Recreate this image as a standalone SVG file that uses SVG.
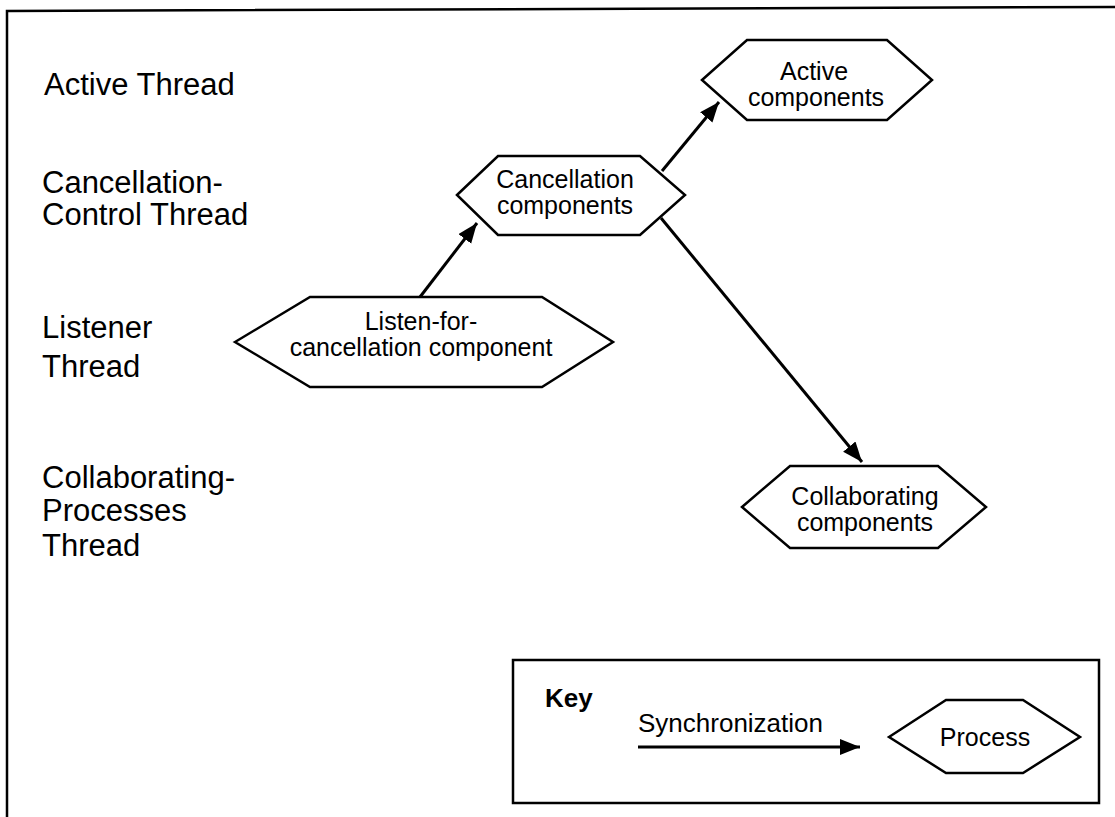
<svg xmlns="http://www.w3.org/2000/svg" width="1115" height="817" viewBox="0 0 1115 817">
<defs>
<marker id="arrow" markerUnits="userSpaceOnUse" markerWidth="22" markerHeight="18" refX="20" refY="8" orient="auto">
<path d="M0,0 L20,8 L0,16 z" fill="#000"/>
</marker>
<style>
.lbl{font-family:"Liberation Sans",Arial,sans-serif;font-size:31px;fill:#000}
.nt{font-family:"Liberation Sans",Arial,sans-serif;font-size:25px;fill:#000;text-anchor:middle}
.hex{fill:#fff;stroke:#000;stroke-width:2.5;stroke-linejoin:miter}
.conn{stroke:#000;stroke-width:3;fill:none}
.frame{stroke:#000;stroke-width:2.5;fill:none}
</style>
</defs>
<rect width="1115" height="817" fill="#fff"/>
<polyline class="frame" points="7,817 7,11 1115,7"/>
<g id="lane-labels">
<text class="lbl" x="44" y="95">Active Thread</text>
<text class="lbl" x="42" y="193">Cancellation-</text>
<text class="lbl" x="42" y="225">Control Thread</text>
<text class="lbl" x="42" y="338">Listener</text>
<text class="lbl" x="42" y="377">Thread</text>
<text class="lbl" x="42" y="488">Collaborating-</text>
<text class="lbl" x="42" y="521">Processes</text>
<text class="lbl" x="42" y="556">Thread</text>
</g>
<g id="connectors">
<line class="conn" x1="420" y1="297" x2="477" y2="223" marker-end="url(#arrow)"/>
<line class="conn" x1="662" y1="171" x2="719" y2="102" marker-end="url(#arrow)"/>
<line class="conn" x1="661" y1="218" x2="862" y2="462" marker-end="url(#arrow)"/>
</g>
<g id="node-active">
<polygon class="hex" points="702,80 747,40 887,40 932,80 887,120 747,120"/>
<text class="nt" x="814" y="80">Active</text>
<text class="nt" x="816" y="106">components</text>
</g>
<g id="node-cancellation">
<polygon class="hex" points="457,195 498,156 640,156 685,195 640,235 498,235"/>
<text class="nt" x="565" y="188">Cancellation</text>
<text class="nt" x="565" y="214">components</text>
</g>
<g id="node-listen">
<polygon class="hex" points="235,342 310,297 542,297 613,342 542,387 310,387"/>
<text class="nt" x="421" y="330">Listen-for-</text>
<text class="nt" x="421" y="356">cancellation component</text>
</g>
<g id="node-collaborating">
<polygon class="hex" points="742,507 790,466 938,466 986,507 938,548 790,548"/>
<text class="nt" x="865" y="505">Collaborating</text>
<text class="nt" x="865" y="531">components</text>
</g>
<g id="key">
<rect x="513" y="660" width="586" height="143" fill="none" stroke="#000" stroke-width="2.5"/>
<text x="545" y="707" style="font-family:'Liberation Sans',Arial,sans-serif;font-size:26px;font-weight:bold">Key</text>
<text x="638" y="732" style="font-family:'Liberation Sans',Arial,sans-serif;font-size:26px">Synchronization</text>
<line class="conn" x1="638" y1="747" x2="860" y2="747" marker-end="url(#arrow)"/>
<polygon class="hex" points="889,737 946,700 1023,700 1080,737 1023,773 946,773"/>
<text class="nt" x="985" y="746">Process</text>
</g>
</svg>
